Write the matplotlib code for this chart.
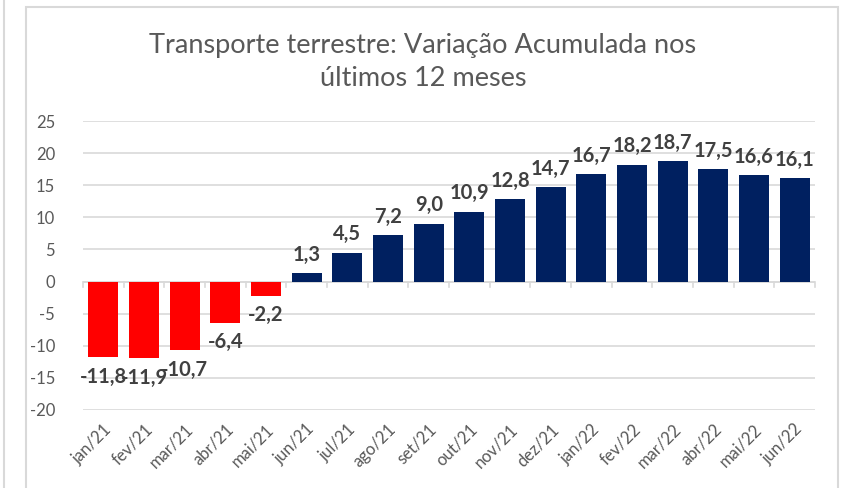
import matplotlib.pyplot as plt
from matplotlib.patches import Rectangle
from matplotlib.lines import Line2D

meses = ["jan/21", "fev/21", "mar/21", "abr/21", "mai/21", "jun/21", "jul/21",
         "ago/21", "set/21", "out/21", "nov/21", "dez/21", "jan/22", "fev/22",
         "mar/22", "abr/22", "mai/22", "jun/22"]
variacao = [-11.8, -11.9, -10.7, -6.4, -2.2, 1.3, 4.5, 7.2, 9.0, 10.9, 12.8,
            14.7, 16.7, 18.2, 18.7, 17.5, 16.6, 16.1]
yticks = [-20, -15, -10, -5, 0, 5, 10, 15, 20, 25]

plt.rcParams['font.family'] = ['Lato', 'DejaVu Sans']

fig = plt.figure(figsize=(8.46, 4.88), dpi=100)
ax = fig.add_axes([83/846, 1-410/488, (815-83)/846, (410-121)/488])

cores = ['#FF0000' if v < 0 else '#002060' for v in variacao]
x = list(range(len(meses)))
bars = ax.bar(x, variacao, width=0.74, color=cores, zorder=3)

for xi, v in zip(x, variacao):
    txt = f"{v:.1f}".replace('.', ',')
    if v < 0:
        ax.annotate(txt, (xi, v), xytext=(0, -7), textcoords='offset points',
                    ha='center', va='top', fontsize=14.5, fontweight='bold',
                    color='#404040', zorder=4)
    else:
        ax.annotate(txt, (xi, v), xytext=(0, 6), textcoords='offset points',
                    ha='center', va='bottom', fontsize=14.5, fontweight='bold',
                    color='#404040', zorder=4)

ax.set_xlim(-0.5, len(meses) - 0.5)
ax.set_ylim(-20, 25)
ax.set_yticks(yticks)
ax.set_yticklabels([str(t) for t in yticks])
ax.yaxis.grid(True, color='#d9d9d9', linewidth=1.2, zorder=0)
ax.set_axisbelow(True)
for s in ax.spines.values():
    s.set_visible(False)
ax.tick_params(axis='y', length=0, labelsize=12, labelcolor='#595959', pad=20)

ax.set_xticks(x)
ax.set_xticklabels(meses, rotation=45, ha='right', rotation_mode='anchor',
                   fontsize=12, color='#595959')
ax.tick_params(axis='x', length=0, pad=8)

# eixo horizontal em zero com marcas entre categorias
ax.axhline(0, color='#d9d9d9', linewidth=1.2, zorder=2)
for b in range(len(meses) + 1):
    ax.plot([b - 0.5, b - 0.5], [0, -0.9], color='#d9d9d9', linewidth=1.2,
            zorder=2, clip_on=False)

fig.suptitle("Transporte terrestre: Variação Acumulada nos\núltimos 12 meses",
             y=1-33/488, va='top', fontsize=19.5, color='#595959',
             fontweight='normal', linespacing=1.4)

# moldura do gráfico
fig.patches.append(Rectangle((26/846, -0.05), (838-26)/846, 1 - 7/488 + 0.05,
                             transform=fig.transFigure, fill=False,
                             edgecolor='#d9d9d9', linewidth=1.5))
fig.lines.append(Line2D([4/846, 4/846], [0, 1], transform=fig.transFigure,
                        color='#d9d9d9', linewidth=1.5))

fig.savefig("out.png", dpi=100)
